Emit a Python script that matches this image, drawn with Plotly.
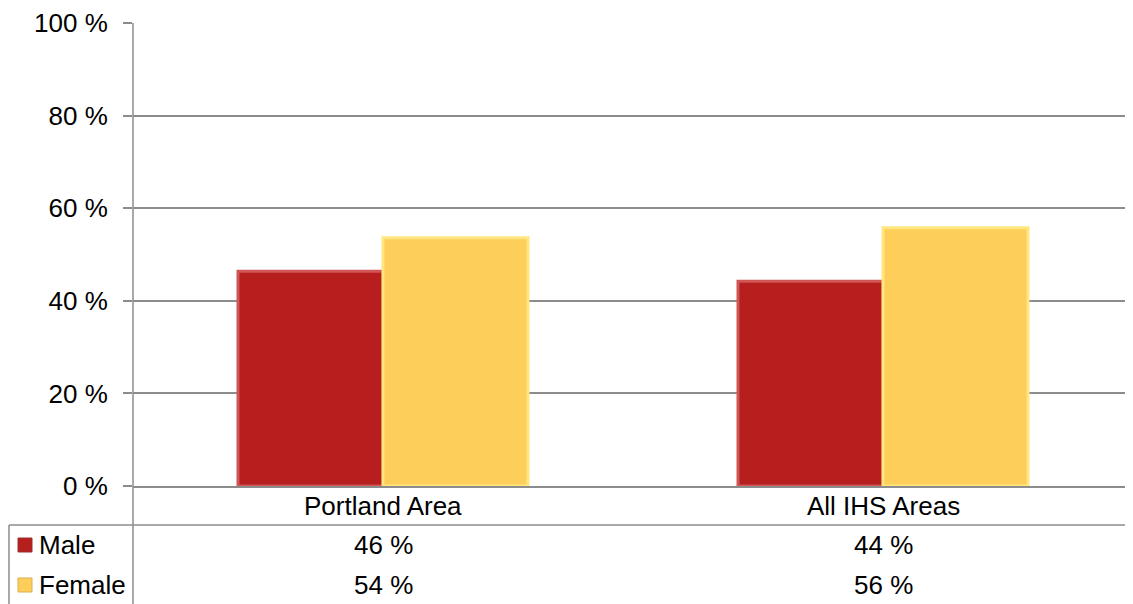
import plotly.graph_objects as go

# data
areas = ['Portland Area', 'All IHS Areas']
male = [46.4, 44.2]
female = [53.6, 55.8]
series_names = ['Male', 'Female']
y_ticks = [0, 20, 40, 60, 80, 100]
y_labels = [f'{v} %' for v in y_ticks]

# page geometry (pixels in the browser window); the page body has an 8px margin
OFF = 8
W, H = 1133 - OFF, 604 - OFF
L, R, T, B = 133 - OFF, 0, 23 - OFF, 118
plot_w = W - L - R
plot_h = H - T - B

def px_x(px):
    return (px - OFF - L) / plot_w

def px_y(py):
    return (H - B - (py - OFF)) / plot_h

FONT = 'Liberation Sans'
GRID = '#8c8c8c'

fig = go.Figure()
fig.add_trace(go.Bar(x=areas, y=male, name='Male',
                     marker=dict(color='#B71F1F', line=dict(color='#D05555', width=3))))
fig.add_trace(go.Bar(x=areas, y=female, name='Female',
                     marker=dict(color='#FDCE5A', line=dict(color='#FFE67E', width=3))))

fig.update_layout(
    width=W, height=H,
    margin=dict(l=L, r=R, t=T, b=B, pad=0),
    plot_bgcolor='white', paper_bgcolor='white',
    barmode='group', bargap=0.42, bargroupgap=0,
    showlegend=False,
    font=dict(family=FONT, size=26, color='black'),
)

fig.update_yaxes(range=[0, 100], tickvals=y_ticks, ticktext=y_labels,
                 showgrid=True, gridcolor=GRID, gridwidth=1.5,
                 ticks='outside', ticklen=9, tickcolor=GRID, tickwidth=1.5,
                 showline=False, zeroline=False, ticklabelstandoff=10,
                 fixedrange=True)
fig.update_xaxes(showline=True, linecolor=GRID, linewidth=1.5,
                 showticklabels=False, ticks='', fixedrange=True)

# y axis line, running down through the data table
fig.add_shape(type='line', xref='paper', yref='paper',
              x0=0, x1=0, y0=1, y1=px_y(604 + 2),
              line=dict(color=GRID, width=1.5))
# table line under category labels
fig.add_shape(type='line', xref='paper', yref='paper',
              x0=px_x(9), x1=1, y0=px_y(525), y1=px_y(525),
              line=dict(color=GRID, width=1.5))
# left border of legend column
fig.add_shape(type='line', xref='paper', yref='paper',
              x0=px_x(9), x1=px_x(9), y0=px_y(525), y1=px_y(604 + 2),
              line=dict(color=GRID, width=1.5))

# category labels
for a in areas:
    fig.add_annotation(x=a, xref='x', y=px_y(506), yref='paper',
                       text=a, showarrow=False, yanchor='middle')

# table rows
row_y = [545, 585]
colors = ['#B71F1F', '#FDCE5A']
edges = ['#9a3030', '#d8b050']
for vals, name, ry, c, e in zip([male, female], series_names, row_y, colors, edges):
    fig.add_shape(type='rect', xref='paper', yref='paper',
                  x0=px_x(18), x1=px_x(32), y0=px_y(ry - 7), y1=px_y(ry + 7),
                  fillcolor=c, line=dict(color=e, width=1))
    fig.add_annotation(x=px_x(37), xref='paper', y=px_y(ry), yref='paper',
                       text=name, showarrow=False, xanchor='left', yanchor='middle')
    for a, v in zip(areas, vals):
        fig.add_annotation(x=a, xref='x', y=px_y(ry), yref='paper',
                           text=f'{round(v)} %', showarrow=False, yanchor='middle')

fig.write_html("out.html", config=dict(displayModeBar=False))
